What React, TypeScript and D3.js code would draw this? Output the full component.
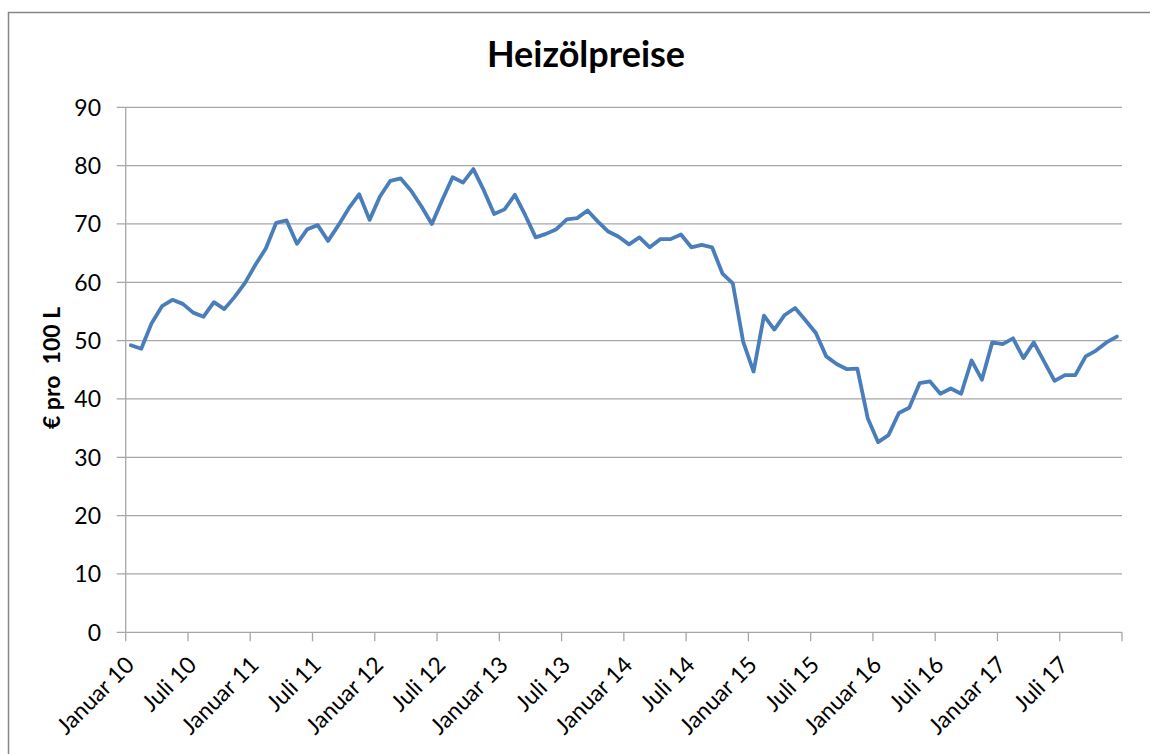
import { useRef, useEffect } from 'react';
import * as d3 from 'd3';

const years = ['10', '11', '12', '13', '14', '15', '16', '17'];
const monthNames = ['Januar', 'Februar', 'März', 'April', 'Mai', 'Juni', 'Juli', 'August', 'September', 'Oktober', 'November', 'Dezember'];

// € pro 100 L, monthly Jan 2010 - Dez 2017
const prices2010 = [49.2, 48.6, 53.0, 55.9, 57.0, 56.3, 54.8, 54.1, 56.6, 55.4, 57.5, 59.9];
const prices2011 = [63.0, 65.8, 70.2, 70.6, 66.6, 69.1, 69.8, 67.1, 69.8, 72.7, 75.1, 70.7];
const prices2012 = [74.7, 77.4, 77.8, 75.7, 73.0, 70.0, 74.1, 78.0, 77.1, 79.4, 75.8, 71.7];
const prices2013 = [72.5, 75.0, 71.5, 67.7, 68.3, 69.1, 70.8, 71.0, 72.3, 70.4, 68.7, 67.8];
const prices2014 = [66.5, 67.7, 66.0, 67.4, 67.4, 68.2, 66.0, 66.4, 66.0, 61.5, 59.8, 49.8];
const prices2015 = [44.7, 54.3, 51.9, 54.4, 55.6, 53.5, 51.3, 47.3, 46.0, 45.1, 45.2, 36.7];
const prices2016 = [32.6, 33.8, 37.6, 38.5, 42.7, 43.0, 40.9, 41.8, 40.9, 46.6, 43.3, 49.7];
const prices2017 = [49.4, 50.4, 47.0, 49.7, 46.4, 43.1, 44.1, 44.1, 47.3, 48.3, 49.7, 50.7];

const yTicks = [0, 10, 20, 30, 40, 50, 60, 70, 80, 90];

const App = () => {
    const ref = useRef<SVGSVGElement>(null);

    useEffect(() => {
        const svg = d3.select(ref.current);
        svg.selectAll('*').remove();

        const values = [...prices2010, ...prices2011, ...prices2012, ...prices2013,
            ...prices2014, ...prices2015, ...prices2016, ...prices2017];
        const months = years.flatMap(y => monthNames.map(m => `${m} ${y}`));
        const data = months.map((m, i) => ({ label: m, value: values[i] }));

        const left = 125.7, right = 1122, top = 107.3, bottom = 632.3;
        const font = 'Lato, "Open Sans", sans-serif';

        const x = d3.scaleBand().domain(months).range([left, right]).padding(0);
        const y = d3.scaleLinear().domain([0, 90]).range([bottom, top]);

        // chart border (runs off the right and bottom edge)
        svg.append('rect')
            .attr('x', 8.5).attr('y', 12.5)
            .attr('width', 1160).attr('height', 760)
            .attr('fill', 'white')
            .attr('stroke', '#868686')
            .attr('stroke-width', 1.5);

        svg.append('text')
            .attr('x', 586).attr('y', 67)
            .attr('text-anchor', 'middle')
            .attr('font-family', font)
            .attr('font-weight', 'bold')
            .attr('font-size', 36)
            .attr('fill', '#000')
            .text('Heizölpreise');

        // gridlines + y labels
        const yg = svg.append('g');
        yg.selectAll('line')
            .data(yTicks)
            .enter().append('line')
            .attr('x1', left - 9).attr('x2', right)
            .attr('y1', d => y(d)).attr('y2', d => y(d))
            .attr('stroke', '#a6a6a6')
            .attr('stroke-width', 1.3);
        yg.selectAll('text')
            .data(yTicks)
            .enter().append('text')
            .attr('x', 101)
            .attr('y', d => y(d))
            .attr('dy', '0.36em')
            .attr('text-anchor', 'end')
            .attr('font-family', font)
            .attr('font-size', 23)
            .attr('fill', '#000')
            .text(d => d);

        // axes lines
        svg.append('line')
            .attr('x1', left).attr('x2', left)
            .attr('y1', top).attr('y2', bottom)
            .attr('stroke', '#a6a6a6').attr('stroke-width', 1.3);

        const tickMonths = months.filter((_, i) => i % 6 === 0);
        const tickXs = [...tickMonths.map(m => x(m)), right];
        svg.append('g').selectAll('line')
            .data(tickXs)
            .enter().append('line')
            .attr('x1', d => d).attr('x2', d => d)
            .attr('y1', bottom).attr('y2', bottom + 9)
            .attr('stroke', '#a6a6a6').attr('stroke-width', 1.3);

        svg.append('g').selectAll('text')
            .data(tickMonths)
            .enter().append('text')
            .attr('transform', d => `translate(${x(d) + 10}, ${bottom + 34}) rotate(-45)`)
            .attr('text-anchor', 'end')
            .attr('font-family', font)
            .attr('font-size', 23)
            .attr('fill', '#000')
            .text(d => d);

        // y axis title
        svg.append('text')
            .attr('transform', `translate(60, 368) rotate(-90)`)
            .attr('text-anchor', 'middle')
            .attr('font-family', font)
            .attr('font-weight', 'bold')
            .attr('font-size', 23)
            .attr('fill', '#000')
            .style('white-space', 'pre')
            .text('€ pro  100 L');

        const line = d3.line<{ label: string; value: number }>()
            .x(d => x(d.label) + x.bandwidth() / 2)
            .y(d => y(d.value));

        svg.append('path')
            .datum(data)
            .attr('d', line)
            .attr('fill', 'none')
            .attr('stroke', '#4a7ebb')
            .attr('stroke-width', 3.8)
            .attr('stroke-linejoin', 'round')
            .attr('stroke-linecap', 'round');
    }, []);

    return (
        <div style={{ position: 'absolute', left: 0, top: 0 }}>
            <svg ref={ref} width={1150} height={754} style={{ display: 'block' }}></svg>
        </div>
    );
};

export default App;
